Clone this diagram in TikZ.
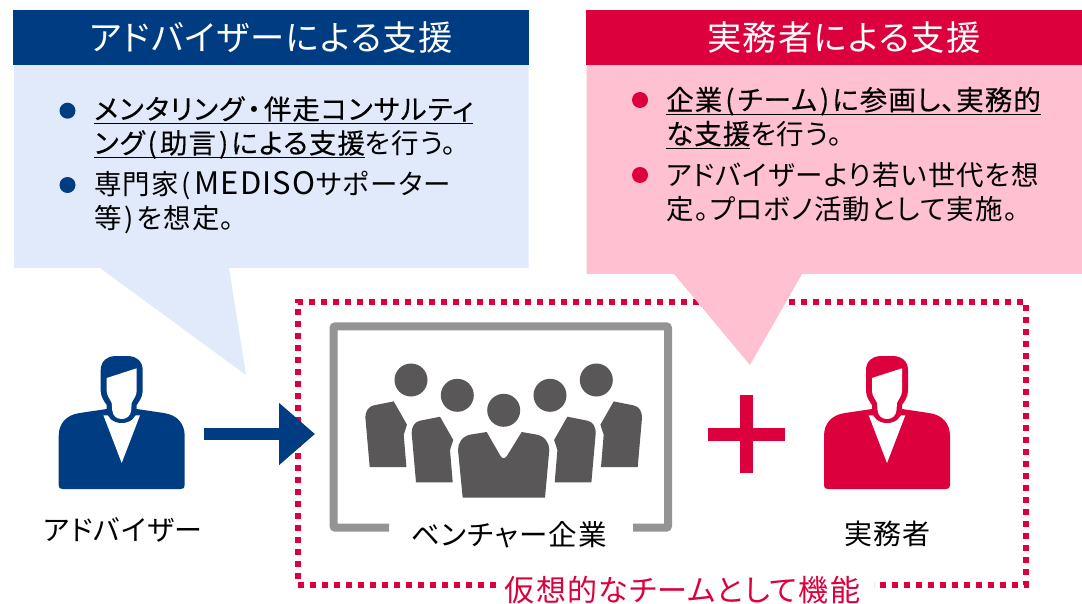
\documentclass[tikz,border=0pt]{standalone}
\usepackage{fontspec}
\usetikzlibrary{arrows.meta}
\usetikzlibrary{positioning}
\setmainfont{Noto Sans CJK JP}[RawFeature=+palt,LetterSpace=4]
\newfontfamily\jpbold{Noto Sans CJK JP}[FakeBold=0.25,RawFeature=+palt,LetterSpace=4]
\newcommand{\ulbar}[1]{\setbox0\hbox{\jpbold #1}\rlap{\rule[-5pt]{\wd0}{1.6pt}}\box0}
\newcommand{\wideL}{\kern3pt(\kern3pt}
\newcommand{\wideR}{\kern3pt)\kern3pt}
\definecolor{advblue}{HTML}{003C82}
\definecolor{advpale}{HTML}{E1EAFB}
\definecolor{pracred}{HTML}{DC003C}
\definecolor{pracpale}{HTML}{FFC0D2}
\definecolor{teamgray}{HTML}{595757}
\definecolor{framegray}{HTML}{949494}
\tikzset{>=latex}
\tikzset{
  headbox/.style={inner sep=0pt, minimum height=55pt, minimum width=516pt, text=white, font=\fontsize{34.3}{36}\selectfont},
  bulletdot/.style={circle, inner sep=0pt, minimum size=16pt},
  itemtext/.style={anchor=west, inner sep=0pt, align=left, font=\fontsize{27.5}{34}\selectfont},
  caption/.style={inner sep=0pt, font=\fontsize{28}{30}\selectfont},
  teamline/.style={pracred, line width=5.5pt, dash pattern=on 6pt off 6pt},
  pics/person/.style={code={
    \fill[#1] (-15,53) -- (-42,57) .. controls (-56,59) and (-63,68) .. (-63,80) -- (-63,129) .. controls (-63,132) and (-62,133) .. (-59,133) -- (59,133) .. controls (62,133) and (63,132) .. (63,129) -- (63,80) .. controls (63,68) and (56,59) .. (42,57) -- (15,53) -- cycle;
    \fill[white] (-18.3,59.3) -- (0,107) -- (18.3,59.3) -- cycle;
    \fill[#1] (-21,14) .. controls (-21,5) and (-14,0) .. (-7,0) -- (7,0) .. controls (14,0) and (21,5) .. (21,14) -- (21,35) .. controls (21,41) and (17,46) .. (15,49) -- (15,54) .. controls (15,62) and (8,67) .. (0,67) .. controls (-8,67) and (-15,62) .. (-15,54) -- (-15,49) .. controls (-17,46) and (-21,41) .. (-21,35) -- cycle;
    \fill[white] (-15,22) -- (15,12.3) -- (15,35) .. controls (15,40) and (11,44) .. (10,47) -- (9.5,54) .. controls (9,60) and (5,63) .. (0,63) .. controls (-5,63) and (-9,60) .. (-9.5,54) -- (-10,47) .. controls (-11,44) and (-15,40) .. (-15,35) -- cycle;
  }},
  pics/sidebody/.style={code={
    \fill[teamgray] (-63.7,416.7) -- (-50.4,440) -- (-53.7,450) -- (-51,482.3) -- (-87.7,482.3) -- (-92,433.3) .. controls (-92,426) and (-89,422) .. (-83.7,420.7) -- cycle;
  }},
}
\begin{document}
\begin{tikzpicture}[x=1pt, y=-1pt]
\useasboundingbox (0,0) rectangle (1082,604);
% team frame
\draw[teamline] (496,585) -- (298,585) -- (298,302) -- (1026,302) -- (1026,585) -- (874,585);
% adviser box
\fill[advpale] (14,65) -- (528.7,65) -- (528.7,268) -- (229,268) -- (246,375) -- (100,268) -- (14,268) -- cycle;
\node[headbox, fill=advblue] (advhead) at (271,37.5) {アドバイザーによる支援};
\node[bulletdot, fill=advblue] (advdot1) at (67.5,110.7) {};
\node[bulletdot, fill=advblue] (advdot2) at (67.5,185) {};
\node[itemtext] (advitem1) at (94,127.5) {\ulbar{メンタリング\kern3pt・\kern3pt伴走コンサルティ}\\\ulbar{ング\wideL 助言\wideR による支援}を行う。};
\node[itemtext] (advitem2) at (94,202.5) {専門家\wideL{\fontsize{31}{34}\selectfont MEDISO}サポーター\\等\wideR を想定。};
% practitioner box
\fill[pracpale] (586.5,65) -- (1082,65) -- (1082,274) -- (802,274) -- (750,365) -- (674,274) -- (586.5,274) -- cycle;
\node[headbox, fill=pracred] (prachead) at (844,37.5) {実務者による支援};
\node[bulletdot, fill=pracred] (pracdot1) at (640,100) {};
\node[bulletdot, fill=pracred] (pracdot2) at (640,175) {};
\node[itemtext] (pracitem1) at (666,118) {\ulbar{企業\wideL チーム\wideR に参画し、実務的}\\\ulbar{な支援}を行う。};
\node[itemtext] (pracitem2) at (666,192) {アドバイザーより若い世代を想\\定。プロボノ活動として実施。};
% adviser
\pic at (121.7,356) {person=advblue};
\node[caption] (advlabel) at (123,530) {アドバイザー};
% venture
\draw[framegray, line width=8pt, rounded corners=2pt] (389,527.7) -- (333.5,527.7) -- (333.5,326.3) -- (668,326.3) -- (668,527.7) -- (633,527.7);
\foreach \sx in {1,-1} {
  \begin{scope}[shift={(503.7,0)}, xscale=\sx]
    \pic[transform shape] at (0,0) {sidebody};
    \pic[transform shape] at (-46.3,-15.3) {sidebody};
  \end{scope}
}
\fill[teamgray] (486.7,432) -- (500.5,456) .. controls (502,459) and (505,459) .. (506.9,456) -- (521.7,432) -- (536,434.5) .. controls (545,436) and (549.3,443) .. (549.3,450) -- (545,497.7) -- (462.7,497.7) -- (458,450) .. controls (458,443) and (462,436) .. (471,434.5) -- cycle;
\foreach \hx/\hy in {411/380, 457.3/395.3, 503.7/410.3, 550/395.3, 596.3/380} {
  \fill[teamgray] (\hx,\hy) circle[radius=16.5];
}
\node[caption, font=\fontsize{28.5}{30}\selectfont] (ventlabel) at (509,535) {ベンチャー企業};
% plus
\draw[pracred, line width=13pt] (708,434.5) -- (785,434.5);
\draw[pracred, line width=13pt] (746.5,395) -- (746.5,473);
% practitioner
\pic at (887,356) {person=pracred};
\node[caption] (praclabel) at (887.5,534) {実務者};
% arrow
\coordinate (arrowstart) at (204,434);
\coordinate (arrowend) at (315,434);
\draw[-{Triangle[length=36pt, width=60pt]}, advblue, line width=12pt] (arrowstart) -- (arrowend);
\node[inner sep=0pt, text=pracred, font=\fontsize{30}{32}\selectfont] (teamlabel) at (682.5,590) {仮想的なチームとして機能};
\end{tikzpicture}
\end{document}
